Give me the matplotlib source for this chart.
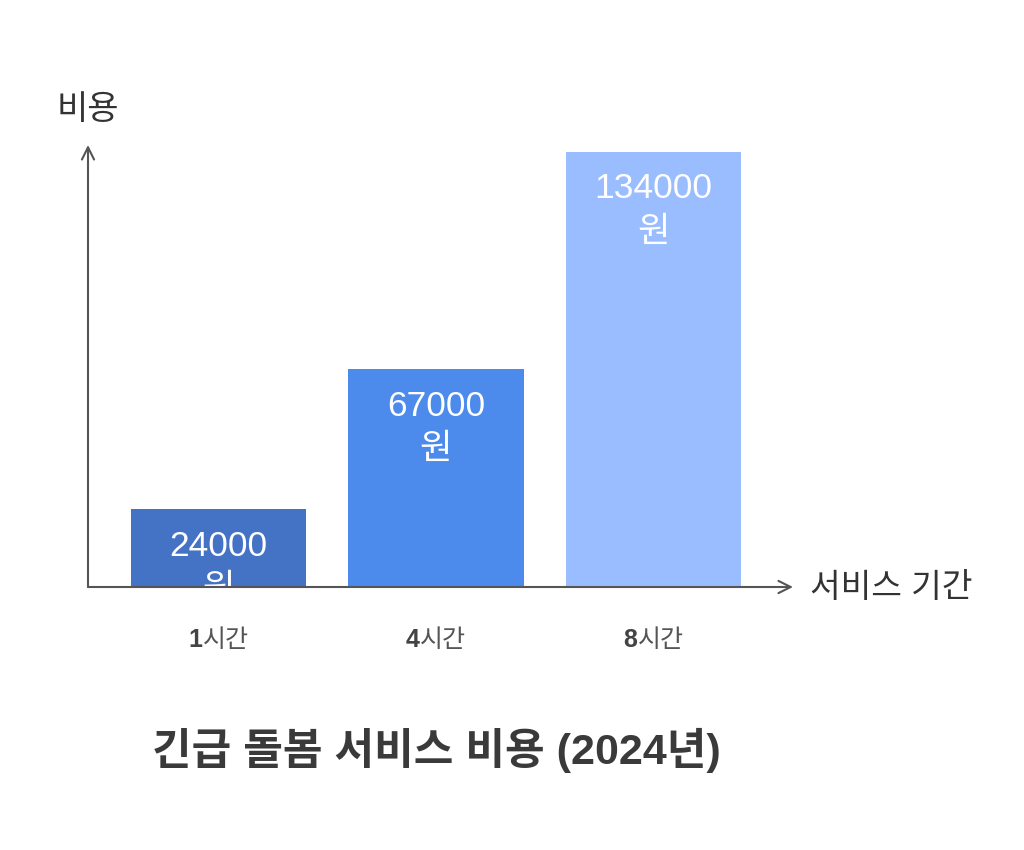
import matplotlib
matplotlib.use("Agg")
import matplotlib.pyplot as plt
from matplotlib.transforms import offset_copy

categories = ["1시간", "4시간", "8시간"]
values = [24000, 67000, 134000]
labels = ["24000\n원", "67000\n원", "134000\n원"]
colors = ["#4472C4", "#4C8BEB", "#99BDFE"]
title = "긴급 돌봄 서비스 비용 (2024년)"
xlabel = "서비스 기간"
ylabel = "비용"

FONT = ["Liberation Sans", "Noto Sans CJK KR", "DejaVu Sans"]
plt.rcParams["font.family"] = FONT

W, H = 1024, 850
fig = plt.figure(figsize=(W / 100, H / 100), dpi=100)
ax = fig.add_axes([88 / W, (H - 587) / H, (793 - 88) / W, (587 - 145) / H])

x = list(range(len(categories)))
ax.bar(x, values, width=0.805, color=colors, zorder=2)
ax.set_xlim(-0.6, 2.641)
ax.set_ylim(0, 136156)

for xi, v, lab in zip(x, values, labels):
    ax.text(xi, v - 6300, lab, ha="center", va="top", color="white",
            fontsize=25.5, linespacing=1.4, clip_on=True, zorder=3)

for s in ax.spines.values():
    s.set_visible(False)
ax.set_xticks([])
ax.set_yticks([])

axc = "#555555"
ax.annotate("", xy=(0, 1.0), xytext=(0, 0), xycoords="axes fraction",
            arrowprops=dict(arrowstyle="->", color=axc, lw=1.5,
                            mutation_scale=22, shrinkA=0, shrinkB=0), zorder=4)
ax.annotate("", xy=(1.0, 0), xytext=(0, 0), xycoords="axes fraction",
            arrowprops=dict(arrowstyle="->", color=axc, lw=1.5,
                            mutation_scale=22, shrinkA=0, shrinkB=0), zorder=4)

# category labels: bold digit + regular Hangul, centered as a whole
renderer = fig.canvas.get_renderer()
trans = ax.get_xaxis_transform()
for xi, c in zip(x, categories):
    num, rest = c[0], c[1:]
    t1 = ax.text(xi, -0.12, num, transform=trans, ha="left", va="center",
                 fontsize=18, color="#444444", fontweight="bold")
    t2 = ax.text(xi, -0.12, rest, transform=trans, ha="left", va="center",
                 fontsize=18, color="#555555")
    w1 = t1.get_window_extent(renderer).width
    w2 = t2.get_window_extent(renderer).width
    total = w1 + w2
    t1.set_transform(offset_copy(trans, fig=fig, x=-total / 2, units="dots"))
    t2.set_transform(offset_copy(trans, fig=fig, x=-total / 2 + w1, units="dots"))

fig.text(810 / W, 1 - 589 / H, xlabel, ha="left", va="center", fontsize=24,
         color="#333333")
fig.text(88 / W, 1 - 111 / H, ylabel, ha="center", va="center", fontsize=24.5,
         color="#333333")
fig.text(436 / W, 1 - 750 / H, title, ha="center", va="center", fontsize=31,
         fontweight="bold", color="#3a3a3a")

fig.savefig("out.png", dpi=100, facecolor="white")
